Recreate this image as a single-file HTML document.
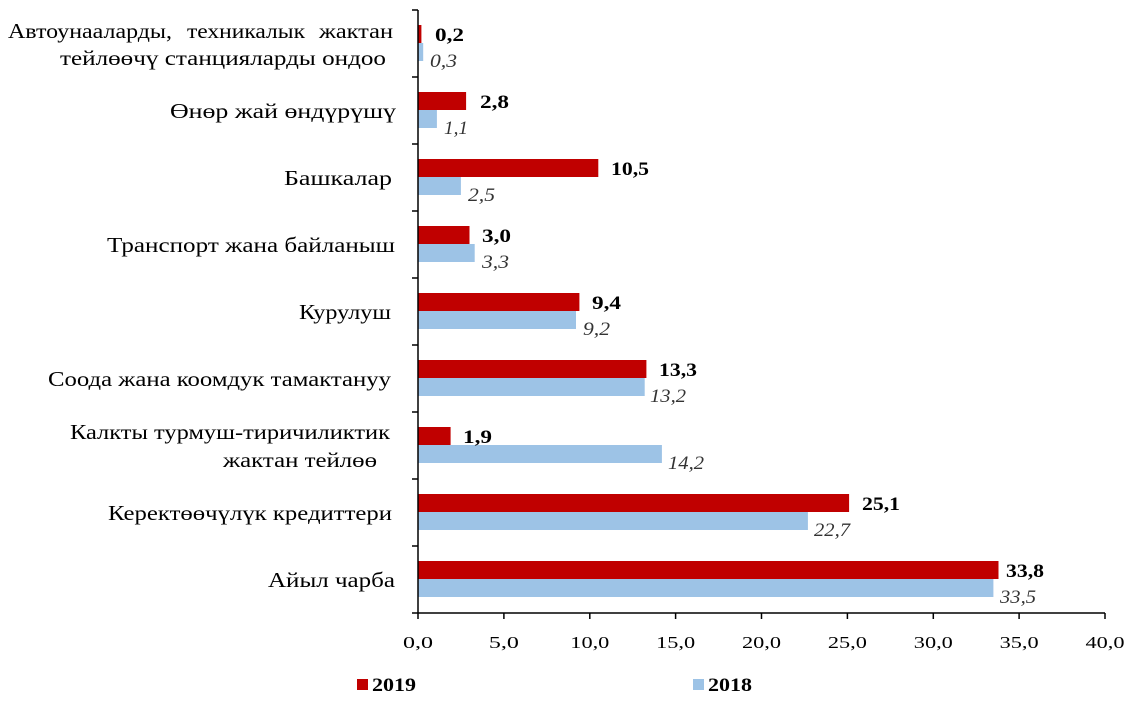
<!DOCTYPE html>
<html><head><meta charset="utf-8"><style>
html,body{margin:0;padding:0;background:#fff}
svg{display:block;font-family:"Liberation Serif",serif}
.c{font-size:21px;fill:#000;text-anchor:end}
.r{font-size:19px;font-weight:bold;fill:#000}
.b{font-size:19px;font-style:italic;fill:#333}
.t{font-size:17px;fill:#000;text-anchor:middle}
</style></head><body>
<svg width="1131" height="702" viewBox="0 0 1131 702">
<g fill="#C00000">
<rect x="418" y="25" width="3.4" height="18"/>
<rect x="418" y="92" width="48.1" height="18"/>
<rect x="418" y="159" width="180.3" height="18"/>
<rect x="418" y="226" width="51.5" height="18"/>
<rect x="418" y="293" width="161.4" height="18"/>
<rect x="418" y="360" width="228.4" height="18"/>
<rect x="418" y="427" width="32.6" height="18"/>
<rect x="418" y="494" width="431.1" height="18"/>
<rect x="418" y="561" width="580.5" height="18"/>
</g>
<g fill="#9DC3E6">
<rect x="418" y="43" width="5.2" height="18"/>
<rect x="418" y="110" width="18.9" height="18"/>
<rect x="418" y="177" width="42.9" height="18"/>
<rect x="418" y="244" width="56.7" height="18"/>
<rect x="418" y="311" width="158" height="18"/>
<rect x="418" y="378" width="226.7" height="18"/>
<rect x="418" y="445" width="243.9" height="18"/>
<rect x="418" y="512" width="389.9" height="18"/>
<rect x="418" y="579" width="575.4" height="18"/>
</g>
<g stroke="#000" stroke-width="1.5">
<line x1="418" y1="10" x2="418" y2="613"/>
<line x1="412" y1="613" x2="1105" y2="613"/>
<line x1="412" y1="10" x2="418" y2="10"/><line x1="412" y1="77" x2="418" y2="77"/>
<line x1="412" y1="144" x2="418" y2="144"/><line x1="412" y1="211" x2="418" y2="211"/>
<line x1="412" y1="278" x2="418" y2="278"/><line x1="412" y1="345" x2="418" y2="345"/>
<line x1="412" y1="412" x2="418" y2="412"/><line x1="412" y1="479" x2="418" y2="479"/>
<line x1="412" y1="546" x2="418" y2="546"/>
<line x1="418" y1="613" x2="418" y2="619"/><line x1="503.9" y1="613" x2="503.9" y2="619"/>
<line x1="589.8" y1="613" x2="589.8" y2="619"/><line x1="675.6" y1="613" x2="675.6" y2="619"/>
<line x1="761.5" y1="613" x2="761.5" y2="619"/><line x1="847.4" y1="613" x2="847.4" y2="619"/>
<line x1="933.3" y1="613" x2="933.3" y2="619"/><line x1="1019.1" y1="613" x2="1019.1" y2="619"/>
<line x1="1105" y1="613" x2="1105" y2="619"/>
</g>
<g>
<text class="t" x="418" y="648" textLength="30" lengthAdjust="spacingAndGlyphs">0,0</text><text class="t" x="503.9" y="648" textLength="30" lengthAdjust="spacingAndGlyphs">5,0</text>
<text class="t" x="589.8" y="648" textLength="39" lengthAdjust="spacingAndGlyphs">10,0</text><text class="t" x="675.6" y="648" textLength="39" lengthAdjust="spacingAndGlyphs">15,0</text>
<text class="t" x="761.5" y="648" textLength="39" lengthAdjust="spacingAndGlyphs">20,0</text><text class="t" x="847.4" y="648" textLength="39" lengthAdjust="spacingAndGlyphs">25,0</text>
<text class="t" x="933.3" y="648" textLength="39" lengthAdjust="spacingAndGlyphs">30,0</text><text class="t" x="1019.1" y="648" textLength="39" lengthAdjust="spacingAndGlyphs">35,0</text>
<text class="t" x="1105" y="648" textLength="39" lengthAdjust="spacingAndGlyphs">40,0</text>
</g>
<g class="r">
<text x="435" y="41" textLength="29" lengthAdjust="spacingAndGlyphs">0,2</text>
<text x="480" y="108" textLength="29" lengthAdjust="spacingAndGlyphs">2,8</text>
<text x="611" y="175" textLength="38" lengthAdjust="spacingAndGlyphs">10,5</text>
<text x="482" y="242" textLength="29" lengthAdjust="spacingAndGlyphs">3,0</text>
<text x="592" y="309" textLength="29" lengthAdjust="spacingAndGlyphs">9,4</text>
<text x="659" y="376" textLength="38" lengthAdjust="spacingAndGlyphs">13,3</text>
<text x="463" y="443" textLength="29" lengthAdjust="spacingAndGlyphs">1,9</text>
<text x="862" y="510" textLength="38" lengthAdjust="spacingAndGlyphs">25,1</text>
<text x="1006" y="577" textLength="38" lengthAdjust="spacingAndGlyphs">33,8</text>
</g>
<g class="b">
<text x="430" y="67" textLength="27" lengthAdjust="spacingAndGlyphs">0,3</text>
<text x="444" y="134" textLength="24" lengthAdjust="spacingAndGlyphs">1,1</text>
<text x="468" y="201" textLength="27" lengthAdjust="spacingAndGlyphs">2,5</text>
<text x="482" y="268" textLength="27" lengthAdjust="spacingAndGlyphs">3,3</text>
<text x="583" y="335" textLength="27" lengthAdjust="spacingAndGlyphs">9,2</text>
<text x="650" y="402" textLength="36" lengthAdjust="spacingAndGlyphs">13,2</text>
<text x="668" y="469" textLength="36" lengthAdjust="spacingAndGlyphs">14,2</text>
<text x="814" y="536" textLength="36" lengthAdjust="spacingAndGlyphs">22,7</text>
<text x="1000" y="603" textLength="36" lengthAdjust="spacingAndGlyphs">33,5</text>
</g>
<g class="c">
<text x="172" y="38" textLength="164" lengthAdjust="spacingAndGlyphs">Автоунааларды,</text>
<text x="305" y="38" textLength="118" lengthAdjust="spacingAndGlyphs">техникалык</text>
<text x="393" y="38" textLength="74" lengthAdjust="spacingAndGlyphs">жактан</text>
<text x="386" y="65" textLength="326" lengthAdjust="spacingAndGlyphs">тейлөөчү станцияларды ондоо</text>
<text x="396" y="118" textLength="226" lengthAdjust="spacingAndGlyphs">Өнөр жай өндүрүшү</text>
<text x="392" y="185" textLength="108" lengthAdjust="spacingAndGlyphs">Башкалар</text>
<text x="395" y="252" textLength="288" lengthAdjust="spacingAndGlyphs">Транспорт жана байланыш</text>
<text x="391" y="319" textLength="92" lengthAdjust="spacingAndGlyphs">Курулуш</text>
<text x="391" y="386" textLength="343" lengthAdjust="spacingAndGlyphs">Соода жана коомдук тамактануу</text>
<text x="390" y="439" textLength="320" lengthAdjust="spacingAndGlyphs">Калкты турмуш-тиричиликтик</text>
<text x="377" y="467" textLength="154" lengthAdjust="spacingAndGlyphs">жактан тейлөө</text>
<text x="392" y="520" textLength="284" lengthAdjust="spacingAndGlyphs">Керектөөчүлүк кредиттери</text>
<text x="395" y="587" textLength="127" lengthAdjust="spacingAndGlyphs">Айыл чарба</text>
</g>
<rect x="357" y="679" width="11" height="11" fill="#C00000"/>
<text x="372" y="691" style="font-size:19px;font-weight:bold" textLength="44" lengthAdjust="spacingAndGlyphs">2019</text>
<rect x="693" y="679" width="11" height="11" fill="#9DC3E6"/>
<text x="708" y="691" style="font-size:19px;font-weight:bold" textLength="44" lengthAdjust="spacingAndGlyphs">2018</text>
</svg>
</body></html>
